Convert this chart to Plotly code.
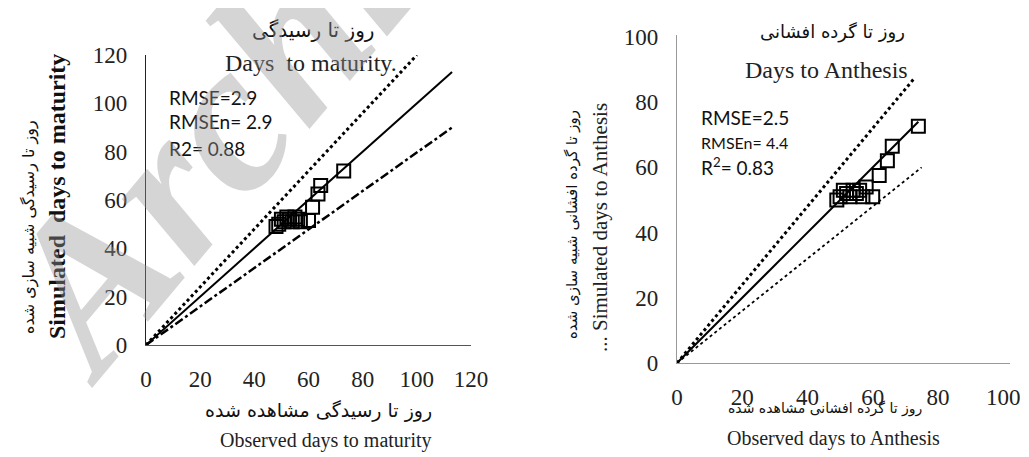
import plotly.graph_objects as go

# ---------------- data ----------------
# Days to maturity (observed vs simulated)
mat_obs = [48, 49, 50, 51, 52, 53, 54, 55, 56, 57, 60, 61.5, 63.5, 64.5, 73]
mat_sim = [49, 50, 52, 51, 53, 52, 51, 53, 52, 51, 51.5, 57, 62.5, 66, 72]
# Days to anthesis (observed vs simulated)
ant_obs = [49, 50, 51, 52, 53, 54, 55, 56, 57, 58, 60, 62, 64.5, 66, 74]
ant_sim = [50, 51, 53, 52, 51, 53, 52, 53, 51, 54, 51, 57.5, 62, 66.5, 72.6]

mat_ticks = [0, 20, 40, 60, 80, 100, 120]
ant_ticks = [0, 20, 40, 60, 80, 100]

# reference lines (endpoints)
mat_upper_x, mat_upper_y = [0, 100], [0, 120]
mat_one_x, mat_one_y = [0, 113], [0, 113]
mat_lower_x, mat_lower_y = [0, 113], [0, 90]
ant_upper_x, ant_upper_y = [0, 72.5], [0, 87]
ant_one_x, ant_one_y = [0, 74], [0, 74]
ant_lower_x, ant_lower_y = [0, 75], [0, 60]

# the page body has an 8px margin: the figure starts at (8, 8)
OFF = 8
W, H = 1029 - OFF, 457 - OFF


def px(x):
    return (x - OFF) / W


def py(y):
    return 1 - (y - OFF) / H


fig = go.Figure()

# ---- left panel ----
fig.add_trace(go.Scatter(x=mat_upper_x, y=mat_upper_y, mode="lines",
                         line=dict(color="black", width=3, dash="dot"),
                         xaxis="x", yaxis="y", showlegend=False))
fig.add_trace(go.Scatter(x=mat_one_x, y=mat_one_y, mode="lines",
                         line=dict(color="black", width=2),
                         xaxis="x", yaxis="y", showlegend=False))
fig.add_trace(go.Scatter(x=mat_lower_x, y=mat_lower_y, mode="lines",
                         line=dict(color="black", width=2.5, dash="dashdot"),
                         xaxis="x", yaxis="y", showlegend=False))
fig.add_trace(go.Scatter(x=mat_obs, y=mat_sim, mode="markers",
                         marker=dict(symbol="square-open", size=13, color="black",
                                     line=dict(width=2, color="black")),
                         xaxis="x", yaxis="y", showlegend=False))

# ---- right panel ----
fig.add_trace(go.Scatter(x=ant_upper_x, y=ant_upper_y, mode="lines",
                         line=dict(color="black", width=3, dash="dot"),
                         xaxis="x2", yaxis="y2", showlegend=False))
fig.add_trace(go.Scatter(x=ant_one_x, y=ant_one_y, mode="lines",
                         line=dict(color="black", width=2),
                         xaxis="x2", yaxis="y2", showlegend=False))
fig.add_trace(go.Scatter(x=ant_lower_x, y=ant_lower_y, mode="lines",
                         line=dict(color="black", width=1.8, dash="dot"),
                         xaxis="x2", yaxis="y2", showlegend=False))
fig.add_trace(go.Scatter(x=ant_obs, y=ant_sim, mode="markers",
                         marker=dict(symbol="square-open", size=13, color="black",
                                     line=dict(width=2, color="black")),
                         xaxis="x2", yaxis="y2", showlegend=False))

tickfont = dict(family="Liberation Serif", size=23, color="#222")

axis_common = dict(showgrid=False, zeroline=False, showline=True, ticks="",
                   tickfont=tickfont, ticklabelstandoff=13, automargin=False)

fig.update_layout(
    template="none",
    width=W, height=H,
    margin=dict(l=0, r=0, t=0, b=0, pad=0),
    paper_bgcolor="white", plot_bgcolor="white",
    showlegend=False,
    xaxis=dict(domain=[px(146), px(471)], range=[0, 120], anchor="y",
               tickvals=mat_ticks, linecolor="#555", linewidth=1.3, **axis_common),
    yaxis=dict(domain=[py(345), py(55)], range=[0, 120], anchor="x",
               tickvals=mat_ticks, linecolor="#222", linewidth=1.3, **axis_common),
    xaxis2=dict(domain=[px(677), px(1010)], range=[0, 102.1], anchor="y2",
                tickvals=ant_ticks, linecolor="#999", linewidth=1.3, **axis_common),
    yaxis2=dict(domain=[py(363), py(35)], range=[0, 100.6], anchor="x2",
                tickvals=ant_ticks, linecolor="#999", linewidth=1.3, **axis_common),
)

serif = "Liberation Serif"
fa = "DejaVu Sans"
anns = [
    # left titles
    dict(x=px(313), y=py(30), text="روز تا رسیدگی", font=dict(family=fa, size=20, color="#111")),
    dict(x=px(311), y=py(63), text="Days  to maturity.", font=dict(family=serif, size=24, color="#222")),
    # left stats
    dict(x=px(167), y=py(97), text="RMSE=2.9", xanchor="left", font=dict(family="Lato", size=19, color="#111")),
    dict(x=px(167), y=py(122), text="RMSEn= 2.9", xanchor="left", font=dict(family="Lato", size=19, color="#111")),
    dict(x=px(167), y=py(148), text="R2= 0.88", xanchor="left", font=dict(family="Lato", size=19, color="#111")),
    # left axis titles
    dict(x=px(318), y=py(410), text="روز تا رسیدگی مشاهده شده", font=dict(family=fa, size=19, color="#111")),
    dict(x=px(326), y=py(440), text="Observed days to maturity", font=dict(family=serif, size=20, color="#222")),
    dict(x=px(29), y=py(227), text="روز تا رسیدگی شبیه سازی شده", textangle=-90,
         font=dict(family=fa, size=16, color="#111")),
    dict(x=px(57), y=py(197), text="Simulated  days to maturity", textangle=-90,
         font=dict(family=serif, size=24, color="#111", weight="bold")),
    # right titles
    dict(x=px(832), y=py(32), text="روز تا گرده افشانی", font=dict(family=fa, size=18, color="#111")),
    dict(x=px(826), y=py(70), text="Days to Anthesis", font=dict(family=serif, size=24, color="#222")),
    # right stats
    dict(x=px(699), y=py(117), text="RMSE=2.5", xanchor="left", font=dict(family="Lato", size=19, color="#111")),
    dict(x=px(699), y=py(142), text="RMSEn= 4.4", xanchor="left", font=dict(family="Lato", size=16, color="#111")),
    dict(x=px(699), y=py(167), text="R<sup>2</sup>= 0.83", xanchor="left", font=dict(family="Lato", size=19, color="#111")),
    # right axis titles
    dict(x=px(825), y=py(408), text="روز تا گرده افشانی مشاهده شده", font=dict(family=fa, size=14, color="#111")),
    dict(x=px(833), y=py(438), text="Observed days to Anthesis", font=dict(family=serif, size=20, color="#222")),
    dict(x=px(572), y=py(225), text="روز تا گرده افشانی شبیه سازی شده", textangle=-90,
         font=dict(family=fa, size=15, color="#111")),
    dict(x=px(600), y=py(228), text="... Simulated days to Anthesis", textangle=-90,
         font=dict(family=serif, size=21, color="#222")),
    # watermark
    dict(x=px(262), y=py(72), text="Archive", textangle=-50,
         font=dict(family=serif, size=215, color="rgba(150,150,150,0.4)", weight="bold", style="italic")),
]
for a in anns:
    a.setdefault("xref", "paper")
    a.setdefault("yref", "paper")
    a.setdefault("showarrow", False)
    a.setdefault("xanchor", "center")
    a.setdefault("yanchor", "middle")
fig.update_layout(annotations=anns)

fig.write_html("out.html")
